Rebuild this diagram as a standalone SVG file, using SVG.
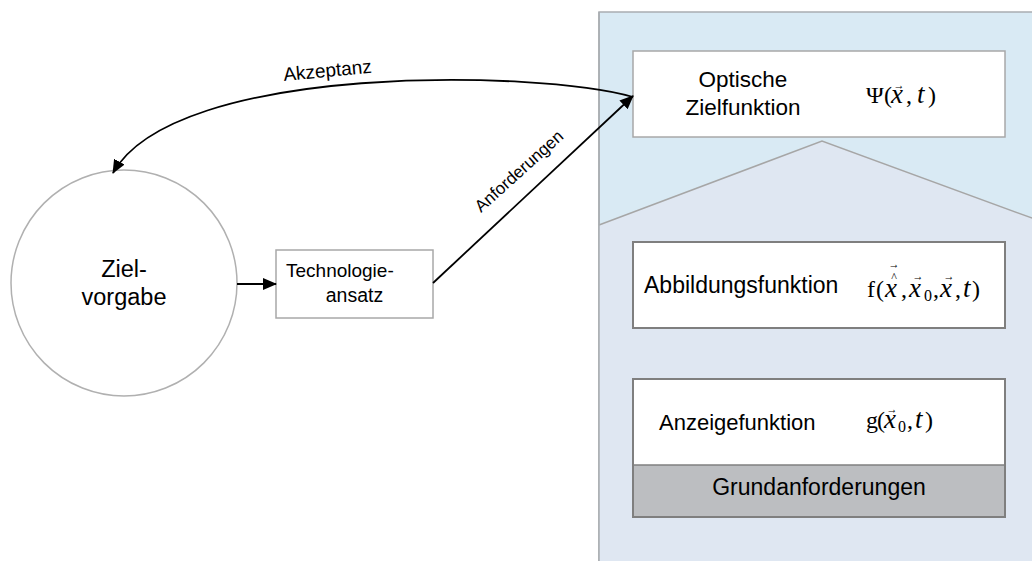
<svg xmlns="http://www.w3.org/2000/svg" width="1032" height="561" viewBox="0 0 1032 561">
<style>
.sans{font-family:"Liberation Sans",Arial,sans-serif;fill:#000}
.math{font-family:"Liberation Serif","Times New Roman",serif;font-size:24px;fill:#000}
.it{font-style:italic;font-size:27px}
.vec{font-family:"Liberation Serif","DejaVu Serif",serif;font-size:12px;fill:#000}
.conn{fill:none;stroke:#000;stroke-width:1.8}
.box1{fill:#fff;stroke:#a8a8a8;stroke-width:1.5}
.box2{fill:#fff;stroke:#7f7f7f;stroke-width:2}
</style>
<defs>
<marker id="ah" viewBox="0 0 14 12" refX="13" refY="6" markerWidth="14" markerHeight="12" markerUnits="userSpaceOnUse" orient="auto">
<path d="M0,0 L14,6 L0,12 z" fill="#000"/>
</marker>
</defs>
<rect width="1032" height="561" fill="#fff"/>
<g id="panel">
<rect x="599" y="12" width="450" height="560" fill="#d9eaf4" stroke="#a9adb1" stroke-width="1.5"/>
<polygon points="599,225 822,141 1040,221 1040,572 599,572" fill="#dfe7f2"/>
<polyline points="599,225 822,141 1040,221" fill="none" stroke="#a6a6a6" stroke-width="1.5"/>
<line x1="599" y1="12" x2="599" y2="561" stroke="#a9adb1" stroke-width="1.5"/>
</g>
<g id="zielvorgabe">
<circle cx="124" cy="283" r="113" fill="#fff" stroke="#b0b0b0" stroke-width="1.5"/>
<text class="sans" x="124" y="277" font-size="23.5" text-anchor="middle">Ziel-</text>
<text class="sans" x="124" y="305" font-size="23.5" text-anchor="middle">vorgabe</text>
</g>
<g id="technologieansatz">
<rect class="box1" x="276" y="250" width="157" height="68"/>
<text class="sans" x="286" y="277" font-size="19">Technologie-</text>
<text class="sans" x="354.5" y="302" font-size="19.5" text-anchor="middle">ansatz</text>
</g>
<g id="optische">
<rect class="box1" x="633" y="51" width="372" height="86"/>
<text class="sans" x="743" y="87" font-size="22.5" text-anchor="middle">Optische</text>
<text class="sans" x="743" y="115" font-size="22.5" text-anchor="middle">Zielfunktion</text>
<text class="math" y="103"><tspan x="866">Ψ</tspan><tspan x="884">(</tspan><tspan x="891" class="it">x</tspan><tspan x="906">,</tspan><tspan x="917" class="it">t</tspan><tspan x="928">)</tspan></text>
<text class="vec" x="899" y="89" text-anchor="middle" textLength="11" lengthAdjust="spacingAndGlyphs">→</text>
</g>
<g id="abbildung">
<rect class="box2" x="633" y="242" width="372" height="86"/>
<text class="sans" x="644" y="293" font-size="23">Abbildungsfunktion</text>
<text class="math" y="297"><tspan x="867">f</tspan><tspan x="876">(</tspan><tspan x="885" class="it">x</tspan><tspan x="901">,</tspan><tspan x="909" class="it">x</tspan><tspan x="924" font-size="16" dy="4">0</tspan><tspan x="933" dy="-4">,</tspan><tspan x="940" class="it">x</tspan><tspan x="955">,</tspan><tspan x="963" class="it">t</tspan><tspan x="972">)</tspan></text>
<text class="vec" x="894" y="281" font-size="13" text-anchor="middle">^</text>
<text class="vec" x="894" y="268" text-anchor="middle" textLength="11" lengthAdjust="spacingAndGlyphs">→</text>
<text class="vec" x="918" y="280" text-anchor="middle" textLength="11" lengthAdjust="spacingAndGlyphs">→</text>
<text class="vec" x="949" y="280" text-anchor="middle" textLength="11" lengthAdjust="spacingAndGlyphs">→</text>
</g>
<g id="anzeige">
<rect class="box2" x="633" y="379" width="372" height="138"/>
<rect x="634" y="465" width="370" height="51" fill="#bcbec1"/>
<line x1="633" y1="465" x2="1005" y2="465" stroke="#7f7f7f" stroke-width="1.5"/>
<rect x="633" y="379" width="372" height="138" fill="none" stroke="#7f7f7f" stroke-width="2"/>
<text class="sans" x="659" y="430" font-size="22">Anzeigefunktion</text>
<text class="math" y="428"><tspan x="866">g</tspan><tspan x="877">(</tspan><tspan x="884" class="it">x</tspan><tspan x="898" font-size="16" dy="4">0</tspan><tspan x="907" dy="-4">,</tspan><tspan x="915" class="it">t</tspan><tspan x="925">)</tspan></text>
<text class="vec" x="892" y="413" text-anchor="middle" textLength="11" lengthAdjust="spacingAndGlyphs">→</text>
<text class="sans" x="819" y="495" font-size="23" text-anchor="middle">Grundanforderungen</text>
</g>
<g id="connectors">
<line class="conn" x1="237" y1="284" x2="276" y2="284" marker-end="url(#ah)"/>
<line class="conn" x1="433" y1="283" x2="633" y2="96" marker-end="url(#ah)"/>
<path class="conn" d="M633,97 C540,70 175,62 113,173" marker-end="url(#ah)"/>
<text class="sans" x="284" y="81" font-size="19" transform="rotate(-5.4 284 81)">Akzeptanz</text>
<text class="sans" x="481" y="213" font-size="17" transform="rotate(-42 481 213)">Anforderungen</text>
</g>
</svg>
